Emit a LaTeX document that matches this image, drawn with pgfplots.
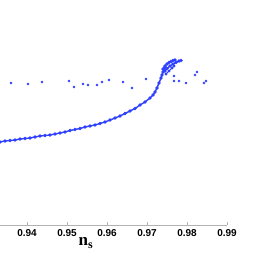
\documentclass[border=0pt]{standalone}
\usepackage{fontspec}
\setmainfont{Liberation Serif}
\setsansfont{Liberation Sans}
\usepackage{pgfplots}
\pgfplotsset{compat=1.18}
\definecolor{ptblue}{RGB}{48,64,255}
\begin{document}
\begin{tikzpicture}
\path[use as bounding box] (0,-30pt) rectangle (256pt,225pt);
\begin{axis}[
  at={(0,0)}, anchor=south west,
  scale only axis, width=227pt, height=225pt,
  xmin=0.93325, xmax=0.99, ymin=0, ymax=225,
  axis y line=none, axis x line=bottom,
  x axis line style={draw=gray!60, -},
  xtick={0.94,0.95,0.96,0.97,0.98,0.99},
  tick align=inside, major tick length=3pt,
  tick style={gray!60},
  xticklabel style={font=\sffamily\bfseries\fontsize{10}{11}\selectfont, yshift=-1pt},
  /pgf/number format/assume math mode=true,
  /pgf/number format/.cd, fixed, precision=2, fixed zerofill,
  /pgfplots/.cd,
  xlabel={\textbf{n}\textsubscript{\textbf{s}}},
  every axis x label/.style={at={(rel axis cs:0.379,0)}, anchor=center, yshift=-18pt, font=\fontsize{17}{18}\selectfont},
]
% main curve
\addplot[ptblue, line width=1.4pt, mark=*, mark size=0.95pt] coordinates {
(0.93325,83)(0.93450,84)(0.93575,84.5)(0.93700,85)(0.93825,86)(0.93950,86.5)
(0.94075,87)(0.94200,88)(0.94325,89)(0.94450,89.5)(0.94575,90)(0.94700,91)
(0.94825,92)(0.94950,93)(0.95075,94.5)(0.95200,95.5)(0.95325,96.5)(0.95450,98)
(0.95575,99)(0.95700,100)(0.95825,101.5)(0.95950,103)(0.96075,105)(0.96200,107)
(0.96325,109)(0.96450,111.5)(0.96575,114)(0.96700,116.5)(0.96825,120)(0.96950,123)
(0.97075,127)(0.97150,130)(0.97200,133)(0.97250,137)(0.97300,142)(0.97350,147)
(0.97375,150)(0.97400,153)(0.97425,156)(0.97450,158)
};
% upper arcs
\addplot[ptblue, line width=1.2pt, mark=*, mark size=0.95pt] coordinates {
(0.97400,156)(0.97450,159)(0.97500,161)(0.97550,162.5)(0.97600,163.5)(0.97650,164.5)(0.97700,165)
};
\addplot[ptblue, line width=1.2pt, mark=*, mark size=0.95pt] coordinates {
(0.97450,154)(0.97500,156.5)(0.97575,159)(0.97650,161)(0.97725,162.5)(0.97800,164)(0.97850,164.5)
};
\addplot[ptblue, line width=1.0pt, mark=*, mark size=0.9pt] coordinates {
(0.97475,151)(0.97550,154)(0.97625,157)(0.97675,159)
};
% scattered points
\addplot[only marks, ptblue, mark=*, mark size=1.1pt] coordinates {
(0.93600,142)(0.94025,141)(0.94375,143)(0.95050,144)(0.95175,138)(0.95400,141)
(0.95525,140)(0.95750,140)(0.95875,143)(0.96050,145)(0.96400,143)(0.96625,137)
(0.96975,146)(0.97675,149)(0.97675,144)(0.97800,144)(0.97975,142)(0.98200,150)
(0.98250,153)(0.98425,142)(0.98475,144)
};
\end{axis}
\end{tikzpicture}
\end{document}
